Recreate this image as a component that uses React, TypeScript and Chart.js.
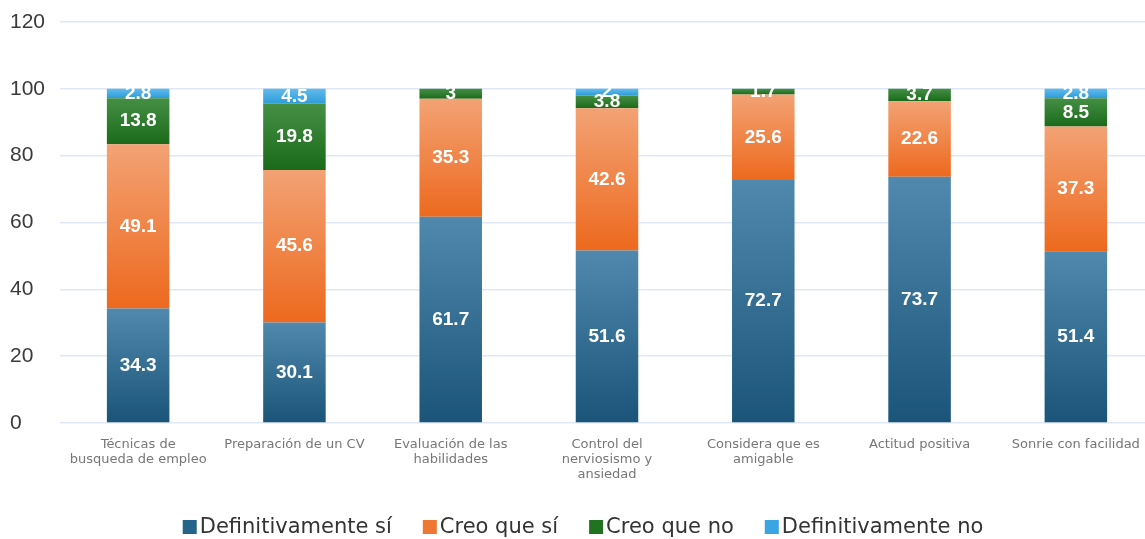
import React, { useEffect, useRef } from "react";
import { Chart, registerables } from "chart.js";

Chart.register(...registerables);

const categories: (string | string[])[] = [
  ["Técnicas de", "busqueda de empleo"],
  "Preparación de un CV",
  ["Evaluación de las", "habilidades"],
  ["Control del", "nerviosismo y", "ansiedad"],
  ["Considera que es", "amigable"],
  "Actitud positiva",
  "Sonrie con facilidad",
];

const definitivamenteSi = [34.3, 30.1, 61.7, 51.6, 72.7, 73.7, 51.4];
const creoQueSi = [49.1, 45.6, 35.3, 42.6, 25.6, 22.6, 37.3];
const creoQueNo = [13.8, 19.8, 3, 3.8, 1.7, 3.7, 8.5];
const definitivamenteNo = [2.8, 4.5, null, 2, null, null, 2.8];

const seriesNames = ["Definitivamente sí", "Creo que sí", "Creo que no", "Definitivamente no"];
const yTicks = [0, 20, 40, 60, 80, 100, 120];

const gradientStops = [
  ["#5089ad", "#1a5478"],
  ["#f3a274", "#ed691e"],
  ["#458f45", "#1a6a1a"],
  ["#62bbec", "#2c9bd9"],
];
const legendColors = ["#24648a", "#ef7733", "#217321", "#3aa5e2"];

const allSeries = [definitivamenteSi, creoQueSi, creoQueNo, definitivamenteNo];

function segmentGradient(dsIndex: number) {
  return (context: any) => {
    const chart = context.chart;
    const idx = context.dataIndex;
    const y = chart.scales && chart.scales.y;
    const [c1, c2] = gradientStops[dsIndex];
    if (!y || idx == null || !chart.chartArea) return c2;
    let base = 0;
    for (let k = 0; k < dsIndex; k++) base += (allSeries[k][idx] as number) || 0;
    const v = (allSeries[dsIndex][idx] as number) || 0;
    const top = y.getPixelForValue(base + v);
    const bottom = y.getPixelForValue(base);
    if (!isFinite(top) || !isFinite(bottom) || top === bottom) return c2;
    const g = chart.ctx.createLinearGradient(0, top, 0, bottom);
    g.addColorStop(0, c1);
    g.addColorStop(1, c2);
    return g;
  };
}

const labelPlugin = {
  id: "segLabels",
  afterDatasetsDraw(chart: any) {
    const ctx = chart.ctx;
    ctx.save();
    ctx.fillStyle = "#ffffff";
    ctx.font = "bold 19px 'Liberation Sans', Arial, sans-serif";
    ctx.textAlign = "center";
    ctx.textBaseline = "middle";
    chart.data.datasets.forEach((ds: any, i: number) => {
      const meta = chart.getDatasetMeta(i);
      meta.data.forEach((el: any, j: number) => {
        const v = ds.data[j];
        if (v == null) return;
        const cy = (el.y + el.base) / 2;
        ctx.fillText(String(v), el.x, cy);
      });
    });
    ctx.restore();
  },
};

const legendPlugin = {
  id: "customLegend",
  afterDraw(chart: any) {
    const ctx = chart.ctx;
    ctx.save();
    ctx.font = "21px 'DejaVu Sans', sans-serif";
    ctx.textBaseline = "middle";
    ctx.textAlign = "left";
    const box = 14;
    const gapBoxText = 3;
    const gapItems = 31;
    const widths = seriesNames.map((n) => ctx.measureText(n).width);
    let total = 0;
    widths.forEach((w, i) => {
      total += box + gapBoxText + w + (i < widths.length - 1 ? gapItems : 0);
    });
    let x = 583 - total / 2;
    const cy = 527;
    seriesNames.forEach((n, i) => {
      ctx.fillStyle = legendColors[i];
      ctx.fillRect(x, cy - box / 2, box, box);
      x += box + gapBoxText;
      ctx.fillStyle = "#333333";
      ctx.fillText(n, x, cy + 1);
      x += widths[i] + gapItems;
    });
    ctx.restore();
  },
};

export default function App() {
  const ref = useRef<HTMLCanvasElement | null>(null);
  useEffect(() => {
    if (!ref.current) return;
    const chart = new Chart(ref.current, {
      type: "bar",
      data: {
        labels: categories,
        datasets: allSeries.map((d, i) => ({
          label: seriesNames[i],
          data: d,
          backgroundColor: segmentGradient(i),
          borderWidth: 0,
          barPercentage: 0.4,
          categoryPercentage: 1,
        })),
      },
      options: {
        animation: false,
        responsive: false,
        maintainAspectRatio: false,
        layout: { padding: { left: 10, top: 22, right: 0, bottom: 50 } },
        plugins: {
          legend: { display: false },
          tooltip: { enabled: false },
        },
        scales: {
          x: {
            stacked: true,
            grid: { display: false, drawTicks: false },
            border: { display: false },
            ticks: {
              autoSkip: false,
              maxRotation: 0,
              minRotation: 0,
              padding: 14,
              color: "#777777",
              font: { family: "'DejaVu Sans', sans-serif", size: 13, lineHeight: 1.15 },
            },
            afterFit: (s: any) => {
              s.height = 66;
            },
          },
          y: {
            stacked: true,
            min: 0,
            max: 120,
            afterBuildTicks: (s: any) => {
              s.ticks = yTicks.map((v) => ({ value: v }));
            },
            grid: { color: "#dfe7f6", lineWidth: 1.5, drawTicks: false },
            border: { display: false },
            ticks: {
              crossAlign: "far",
              color: "#3a3a3a",
              font: { family: "'Liberation Sans', Arial, sans-serif", size: 21 },
            },
            afterFit: (s: any) => {
              s.width = 50;
            },
          },
        },
      },
      plugins: [labelPlugin, legendPlugin],
    });
    return () => chart.destroy();
  }, []);
  return (
    <div
      style={{
        position: "fixed",
        left: 0,
        top: 0,
        width: 1145,
        height: 539,
        overflow: "hidden",
        background: "#ffffff",
      }}
    >
      <canvas ref={ref} width={1154} height={539} style={{ display: "block", width: 1154, height: 539 }} />
    </div>
  );
}
